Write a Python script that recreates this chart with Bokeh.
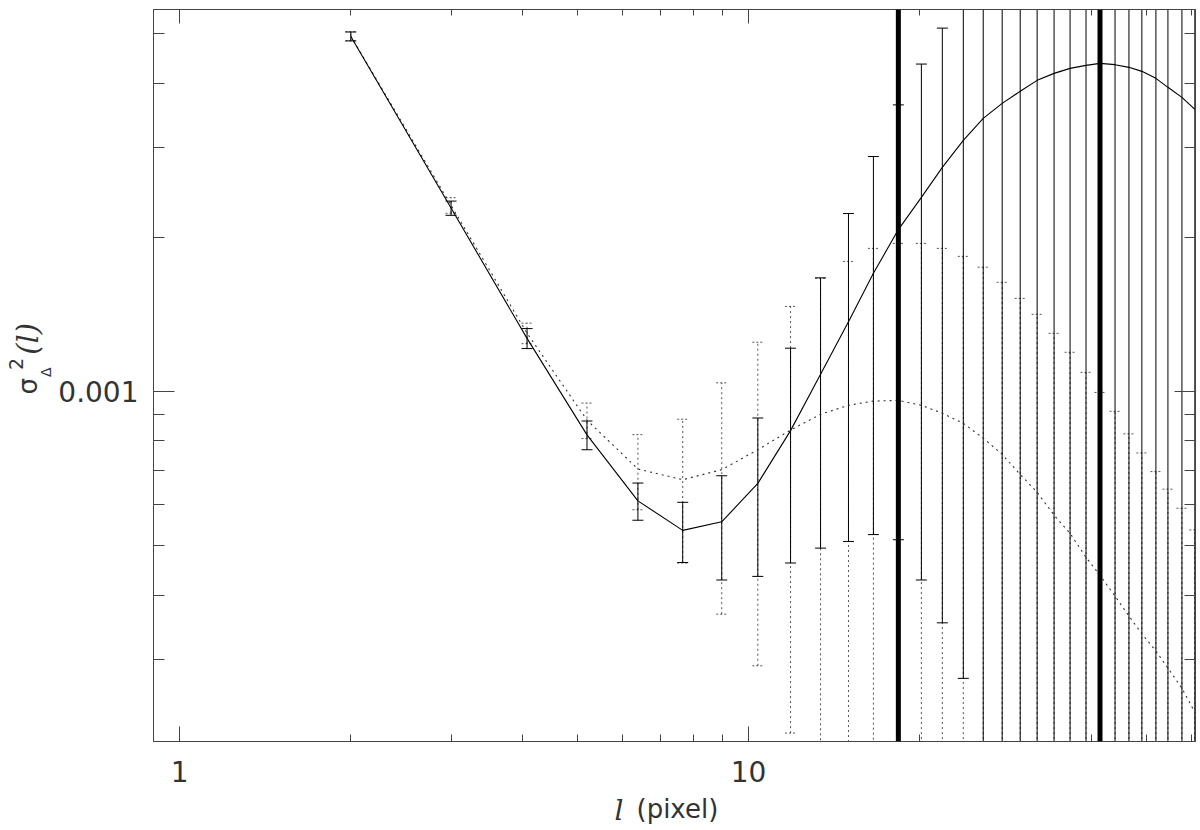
import numpy as np
from bokeh.plotting import figure
from bokeh.models import (ColumnDataSource, FixedTicker, LogAxis, Span,
                          CustomJSTickFormatter, Range1d, LogScale)
from bokeh.layouts import column, row
from bokeh.core.properties import value
from bokeh.embed import file_html
from bokeh.resources import INLINE

# ---- data (scale l in pixels; variances in units of 1e-3) ----
scale_l = [2.0, 3.0, 4.08, 5.20, 6.39, 7.66, 8.97, 10.38, 11.85, 13.38, 14.98,
           16.57, 18.33, 20.12, 21.90, 23.84, 25.84, 27.90, 30.01, 32.14, 34.42,
           36.72, 39.17, 41.45, 44.05, 46.60, 49.10, 51.97, 54.56, 57.74, 60.84]

obs_var = [4.935, 2.280, 1.269, 0.822, 0.611, 0.535, 0.556, 0.661, 0.838, 1.080,
           1.367, 1.700, 2.070, 2.393, 2.738, 3.092, 3.414, 3.652, 3.855, 4.050,
           4.179, 4.274, 4.332, 4.371, 4.346, 4.294, 4.217, 4.087, 3.925, 3.752, 3.555]
obs_err = [0.099, 0.073, 0.057, 0.053, 0.051, 0.072, 0.128, 0.226, 0.376, 0.586,
           0.858, 1.175, 1.557, 1.965, 2.385, 2.817, 3.25, 3.7, 4.1, 4.5,
           4.9, 5.3, 5.7, 6.1, 6.5, 6.9, 7.3, 7.7, 8.1, 8.5, 8.9]

mod_var = [4.94, 2.308, 1.299, 0.8785, 0.705, 0.672, 0.703, 0.769, 0.840, 0.902,
           0.939, 0.957, 0.960, 0.939, 0.906, 0.866, 0.810, 0.753, 0.688, 0.635,
           0.573, 0.528, 0.474, 0.437, 0.398, 0.364, 0.336, 0.311, 0.288, 0.263, 0.236]
mod_err = [0.10, 0.081, 0.060, 0.070, 0.118, 0.210, 0.336, 0.478, 0.625, 0.760,
           0.855, 0.945, 0.985, 1.006, 0.996, 0.969, 0.938, 0.880, 0.831, 0.779,
           0.725, 0.664, 0.615, 0.558, 0.516, 0.462, 0.422, 0.386, 0.356, 0.328, 0.30]

marked_scales = [18.33, 41.45]

x_major = [1, 10]
x_minor = [2, 3, 4, 5, 6, 7, 8, 9, 20, 30, 40, 50, 60]
y_major = [0.001]
y_minor = [0.0002, 0.0003, 0.0004, 0.0005, 0.0006, 0.0007, 0.0008, 0.0009,
           0.002, 0.003, 0.004, 0.005]

# ---- derived columns ----
xs = np.array(scale_l)
def cols(v, e):
    v = np.array(v) * 1e-3
    e = np.array(e) * 1e-3
    lo = v - e
    lo = np.where(lo > 0, lo, 1e-7)
    return dict(x=xs, y=v, hi=v + e, lo=lo)

obs = ColumnDataSource(cols(obs_var, obs_err))
mod = ColumnDataSource(cols(mod_var, mod_err))

AX = "#444444"
TXT = "#333333"
LEFT_W = 55
MAIN_H = 789
XLAB_H = 40
TOTAL_W = 1196

p = figure(width=TOTAL_W - LEFT_W, height=MAIN_H, x_axis_type=None, y_axis_type=None,
           x_range=Range1d(0.9, 61.0), y_range=Range1d(0.000207, 0.00557),
           output_backend="svg", toolbar_location=None,
           min_border_left=152 - LEFT_W, min_border_right=1, min_border_top=9,
           min_border_bottom=MAIN_H - 741)
p.x_scale = LogScale()
p.y_scale = LogScale()
p.outline_line_color = AX
p.background_fill_color = "white"
p.border_fill_color = "white"

def make_axis(major, minor, labels, tick_in, minor_in, standoff=15):
    ax = LogAxis(ticker=FixedTicker(ticks=major, minor_ticks=minor),
                 major_tick_in=tick_in, major_tick_out=0,
                 minor_tick_in=minor_in, minor_tick_out=0,
                 axis_line_color=AX, major_tick_line_color=AX,
                 minor_tick_line_color=AX)
    if labels:
        ax.formatter = CustomJSTickFormatter(code="return tick.toString();")
        ax.major_label_text_font = "DejaVu Sans"
        ax.major_label_text_font_size = "28px"
        ax.major_label_text_color = TXT
        ax.major_label_standoff = standoff
    else:
        ax.formatter = CustomJSTickFormatter(code="return '';")
        ax.major_label_text_font_size = "0px"
        ax.major_label_standoff = 0
    return ax

p.add_layout(make_axis(x_major, x_minor, True, 15, 7, standoff=19), "below")
p.add_layout(make_axis(x_major, x_minor, False, 14, 6), "above")
p.add_layout(make_axis(y_major, y_minor, True, 21, 11, standoff=15), "left")
p.add_layout(make_axis(y_major, y_minor, False, 21, 11), "right")

# ---- error bars ----
p.segment(x0="x", y0="lo", x1="x", y1="hi", source=mod, line_color="#555555",
          line_width=1, line_dash="2 3")
p.scatter(x="x", y="hi", source=mod, marker="dash", size=11, line_color="#555555",
          line_width=1, line_dash="2 2")
p.scatter(x="x", y="lo", source=mod, marker="dash", size=11, line_color="#555555",
          line_width=1, line_dash="2 2")

p.segment(x0="x", y0="lo", x1="x", y1="hi", source=obs, line_color="black",
          line_width=1)
p.scatter(x="x", y="hi", source=obs, marker="dash", size=11, line_color="black",
          line_width=1)
p.scatter(x="x", y="lo", source=obs, marker="dash", size=11, line_color="black",
          line_width=1)

# ---- curves ----
p.line(x="x", y="y", source=mod, line_color="#333333", line_width=1.1,
       line_dash="2 4")
p.line(x="x", y="y", source=obs, line_color="black", line_width=1.1)

for m in marked_scales:
    p.add_layout(Span(location=m, dimension="height", line_color="black",
                      line_width=5))

# ---- axis titles drawn in small side figures (pixel coordinates) ----
def blank(w, h):
    f = figure(width=w, height=h, x_range=Range1d(0, w), y_range=Range1d(0, h),
               x_axis_location=None, y_axis_location=None, output_backend="svg",
               toolbar_location=None, min_border=0)
    f.grid.visible = False
    f.outline_line_color = None
    f.background_fill_color = "white"
    f.border_fill_color = "white"
    return f

ylab = blank(LEFT_W, MAIN_H)
rot = np.pi / 2
def ytxt(cx, cy, t, size, font="DejaVu Sans", style="normal"):
    # (cx, cy): centre of the piece in page pixels
    ylab.text(x=[cx], y=[MAIN_H - cy], text=[t], angle=rot,
              text_font=value(font), text_font_style=style,
              text_font_size=value(size), text_color=TXT,
              text_align="center", text_baseline="middle")

ytxt(27, 406, "σ", "26px")
ytxt(45, 391, "Δ", "14px")
ytxt(15, 382, "2", "19px")
ytxt(27, 355, "(l)", "29px", font="DejaVu Serif", style="italic")

xlab = blank(TOTAL_W, XLAB_H)
def xtxt(x, cy, t, size, font="DejaVu Sans", style="normal"):
    xlab.text(x=[x], y=[MAIN_H + XLAB_H - cy], text=[t],
              text_font=value(font), text_font_style=style,
              text_font_size=value(size), text_color=TXT,
              text_align="left", text_baseline="middle")

xtxt(614, 810, "l", "28px", font="DejaVu Serif", style="italic")
xtxt(636, 808, "(pixel)", "26px")

layout = column(row(ylab, p, spacing=0), xlab, spacing=0)
open("out.html", "w").write(file_html(layout, INLINE))
